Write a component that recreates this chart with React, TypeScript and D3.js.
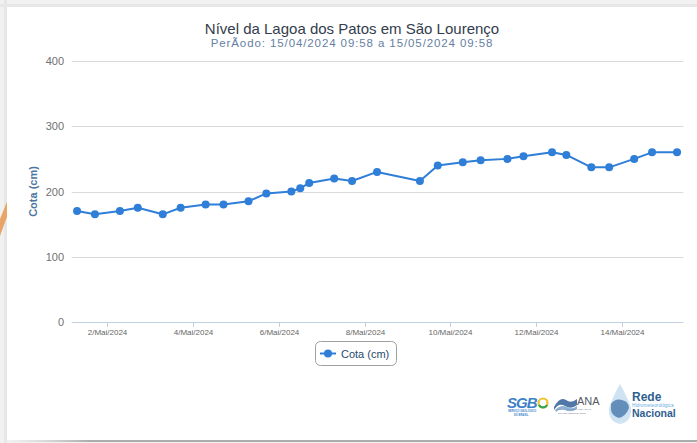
import React from "react";
import * as d3 from "d3";

// ---- data ----
const obsTimes = [
  "2024-05-01T07:00", "2024-05-01T17:00",
  "2024-05-02T07:00", "2024-05-02T17:00",
  "2024-05-03T07:00", "2024-05-03T17:00",
  "2024-05-04T07:00", "2024-05-04T17:00",
  "2024-05-05T07:00", "2024-05-05T17:00",
  "2024-05-06T07:00", "2024-05-06T12:00", "2024-05-06T17:00",
  "2024-05-07T07:00", "2024-05-07T17:00",
  "2024-05-08T07:00",
  "2024-05-09T07:00", "2024-05-09T17:00",
  "2024-05-10T07:00", "2024-05-10T17:00",
  "2024-05-11T08:00", "2024-05-11T17:00",
  "2024-05-12T09:00", "2024-05-12T17:00",
  "2024-05-13T07:00", "2024-05-13T17:00",
  "2024-05-14T07:00", "2024-05-14T17:00",
  "2024-05-15T07:00",
];
const cotaValues = [
  170, 165,
  170, 175,
  165, 175,
  180, 180,
  185, 197,
  200, 205, 213,
  220, 216,
  230,
  216, 240,
  245, 248,
  250, 254,
  260, 256,
  237, 237,
  250, 260,
  260,
];
const xTickDates = ["2024-05-02", "2024-05-04", "2024-05-06", "2024-05-08", "2024-05-10", "2024-05-12", "2024-05-14"];
const xTickLabels = ["2/Mai/2024", "4/Mai/2024", "6/Mai/2024", "8/Mai/2024", "10/Mai/2024", "12/Mai/2024", "14/Mai/2024"];
const yTicks = [0, 100, 200, 300, 400];
const xDomain = ["2024-05-01T04:00", "2024-05-15T10:30"];

const titleText = "Nível da Lagoa dos Patos em São Lourenço";
const subtitleText = "PerÃodo: 15/04/2024 09:58 a 15/05/2024 09:58";
const yTitle = "Cota (cm)";
const seriesName = "Cota (cm)";

const parseUtc = (s: string) => new Date(s + (s.length <= 10 ? "T00:00Z" : "Z"));

const W = 697;
const H = 443;
const plotLeft = 71.7;
const plotRight = 683.3;
const plotTop = 61;
const plotBottom = 322;
const FONT = "'Liberation Sans', Arial, sans-serif";
const COLOR = "#2f7ed8";

export default function App() {
  const x = d3.scaleUtc().domain(xDomain.map(parseUtc)).range([plotLeft, plotRight]);
  const y = d3.scaleLinear().domain([0, 400]).range([plotBottom, plotTop]);
  const data = obsTimes.map((t, i) => ({ t: parseUtc(t), v: cotaValues[i] }));
  const line = d3
    .line<{ t: Date; v: number }>()
    .x((d) => x(d.t))
    .y((d) => y(d.v));

  return (
    <div style={{ position: "absolute", left: 0, top: 0 }}>
      <svg width={W} height={H} style={{ display: "block" }} fontFamily={FONT}>
        <defs>
          <linearGradient id="bottomShade" x1="0" x2="1" y1="0" y2="0">
            <stop offset="0" stopColor="#bdbdbd" stopOpacity={0} />
            <stop offset="0.12" stopColor="#9a9a9a" stopOpacity={0.8} />
            <stop offset="1" stopColor="#9a9a9a" stopOpacity={0.8} />
          </linearGradient>
        </defs>
        {/* page background */}
        <rect x={0} y={0} width={W} height={H} fill="#f1f1f1" />
        <rect x={0} y={4} width={W} height={3} fill="#e7e7e7" />
        <rect x={4} y={0} width={3} height={H} fill="#e7e7e7" />
        <polygon points="0,219 8,199 8,214 0,236" fill="#e9a468" />
        <rect x={7} y={7} width={W - 7} height={433} fill="#ffffff" />
        <rect x={7} y={440} width={W - 7} height={2} fill="url(#bottomShade)" />

        {/* title */}
        <text x={352} y={34} textAnchor="middle" fontSize={15} fill="#333d4d">
          {titleText}
        </text>
        <text x={352} y={47} textAnchor="middle" fontSize={11.5} fill="#6680a3" letterSpacing={0.9}>
          {subtitleText}
        </text>

        {/* grid + y labels */}
        {yTicks.map((t) => (
          <g key={t}>
            {t !== 0 && (
              <line x1={plotLeft} x2={plotRight} y1={Math.round(y(t)) + 0.5} y2={Math.round(y(t)) + 0.5} stroke="#dadada" strokeWidth={1} />
            )}
            <text x={64} y={y(t) + 4} textAnchor="end" fontSize={11} fill="#707070">
              {t}
            </text>
          </g>
        ))}

        {/* y title */}
        <text
          transform={`translate(37,${(plotTop + plotBottom) / 2}) rotate(-90)`}
          textAnchor="middle"
          fontSize={11}
          fontWeight="bold"
          fill="#4d759e"
        >
          {yTitle}
        </text>

        {/* x axis */}
        <line x1={plotLeft} x2={plotRight} y1={plotBottom + 0.5} y2={plotBottom + 0.5} stroke="#c0d0e0" strokeWidth={1} />
        {xTickDates.map((d, i) => {
          const xp = Math.round(x(parseUtc(d))) + 0.5;
          return (
            <g key={d}>
              <line x1={xp} x2={xp} y1={plotBottom} y2={plotBottom + 5} stroke="#c0d0e0" strokeWidth={1} />
              <text x={xp} y={335} textAnchor="middle" fontSize={8} fill="#666666">
                {xTickLabels[i]}
              </text>
            </g>
          );
        })}

        {/* series */}
        <path d={line(data) || ""} fill="none" stroke={COLOR} strokeWidth={2} strokeLinejoin="round" />
        {data.map((d, i) => (
          <circle key={i} cx={x(d.t)} cy={y(d.v)} r={4} fill={COLOR} />
        ))}

        {/* legend */}
        <rect x={315.5} y={341.5} width={81} height={24} rx={5} fill="#ffffff" stroke="#a0a0a0" strokeWidth={1} />
        <line x1={320} x2={336} y1={353.5} y2={353.5} stroke={COLOR} strokeWidth={2} />
        <circle cx={328} cy={353.5} r={4} fill={COLOR} />
        <text x={341} y={357.5} fontSize={11} fill="#274b6d">
          {seriesName}
        </text>

        {/* logos */}
        <g>
          <text x={507} y={408} fontSize={15} fontWeight="bold" fontStyle="italic" fill="#3b82c9" letterSpacing={-1}>
            SGB
          </text>
          <circle cx={543} cy={403} r={4.5} fill="none" stroke="#f2c230" strokeWidth={2.2} />
          <path d="M539,405 A4.5,4.5 0 0 0 547,405" fill="none" stroke="#3aa655" strokeWidth={2.2} />
          <text x={508} y={412} fontSize={2.6} fill="#3b82c9" fontWeight="bold">SERVIÇO GEOLÓGICO</text>
          <text x={514} y={416} fontSize={2.6} fill="#3b82c9" fontWeight="bold">DO BRASIL</text>

          <path d="M554,407 Q560,396 566,400 Q571,404 577,399 L577,405 Q571,410 565,406 Q559,402 554,410 Z" fill="#4f78a8" />
          <path d="M555,410 Q561,404 567,407 Q572,410 577,406 L577,409 Q571,413 565,410 Q560,408 556,412 Z" fill="#8fb3d6" />
          <text x={577} y={405} fontSize={11} fill="#555b66">ANA</text>
          <text x={556} y={410} fontSize={2.3} fill="#6b7d90">AGÊNCIA NACIONAL DE ÁGUAS</text>
          <text x={558} y={414} fontSize={2.3} fill="#6b7d90">E SANEAMENTO BÁSICO</text>

          <path d="M620,384 Q612,398 609,408 Q608,422 620,424 Q632,422 631,408 Q628,398 620,384 Z" fill="#cfe3f3" />
          <path d="M611,404 Q615,398 622,400 Q629,402 629,408 Q626,416 619,418 Q612,416 611,410 Z" fill="#4f7fae" opacity={0.85} />
          <text x={632} y={401} fontSize={12} fontWeight="bold" fill="#2f5f8f">Rede</text>
          <text x={632} y={407} fontSize={4.8} fill="#6aaee0">Hidrometeorológica</text>
          <text x={632} y={417} fontSize={10.5} fontWeight="bold" fill="#2f5f8f">Nacional</text>
        </g>
      </svg>
    </div>
  );
}
